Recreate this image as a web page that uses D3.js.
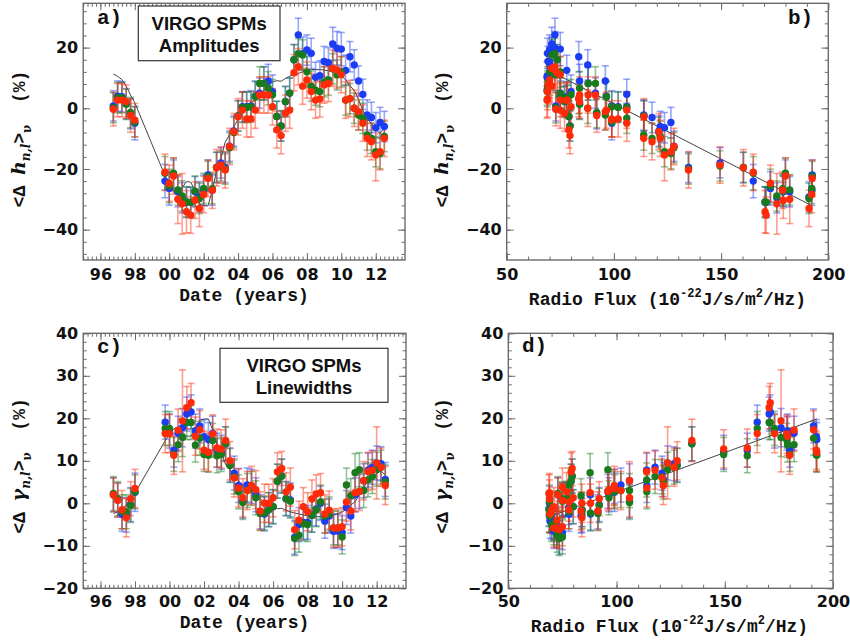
<!DOCTYPE html>
<html><head><meta charset="utf-8">
<script src="https://cdn.jsdelivr.net/npm/d3@7"></script>
<style>body{margin:0;background:#fff}</style>
</head><body>
<svg id="chart" width="850" height="644"></svg>
<script>
// ---------------- DATA ----------------
const dates = [1996.75,1997.0,1997.25,1997.5,1997.75,1998.0,
  1999.75,2000.0,2000.25,2000.5,2000.75,2001.0,2001.25,2001.5,2001.75,2002.0,
  2002.25,2002.5,2002.75,2003.0,2003.25,2003.5,2003.75,2004.0,2004.25,2004.5,
  2004.75,2005.0,2005.25,2005.5,2005.75,2006.0,2006.25,2006.5,2006.75,2007.0,
  2007.25,2007.5,2007.75,2008.0,2008.25,2008.5,2008.75,2009.0,2009.25,2009.5,
  2009.75,2010.0,2010.25,2010.5,2010.75,2011.0,2011.25,2011.5,2011.75,2012.0,
  2012.25,2012.5];
// 10.7 cm radio flux at each date
const flux = [72.9,75,78,84,92,99,
  165,173,180,182,176,170.5,171,179,191,192.3,
  192.5,178.7,160.4,149.5,134.8,128,121,114,106,102,
  99,96.5,91.4,88,84,80,79,79.5,77,75,
  73.5,72.5,71,70,69,68.8,69,69.3,70,71,
  72.5,75,78,83.6,87.8,96,106,113.9,117.8,123.6,
  126.6,121.6];

// Mode amplitudes <Δh> (%), three series
const ampBlue = [0.8,4.0,3.8,1.5,-1.8,-4.9,
  -24,-26.4,-22,-27.5,-29.5,-31,-31,-27.5,-29.2,-27,
  -22,-27,-19.5,-18,-19.5,-12.5,-7.5,-2.5,0.5,0.5,
  0.8,4,5,8.2,9,5.5,-2.7,-5.8,2.2,5,
  16,24.2,18,19.2,18.1,10.2,10.7,15.4,15,21.2,
  19.8,19.5,12.5,17,14.3,9,4.6,-2.2,-3,-6.4,
  -4.7,-6];
const ampGreen = [0.2,3.5,3.5,1.3,-1.4,-4.5,
  -21.4,-25.6,-21.4,-26.9,-28.9,-30.8,-31,-27.3,-29.7,-26.4,
  -22.5,-26.5,-19.5,-19,-20,-13,-8,-2.5,0.3,0.3,
  0.5,3.8,8.2,8.2,6.6,4.5,-2.7,-5.8,2.2,5,
  16,18,17.6,12,7.3,6,5.5,8.7,9.3,13,
  11,12,2.7,3.2,0,-2.2,-3.3,-8.8,-9.9,-14.3,
  -14.9,-9.3];
const ampRed = [-0.3,2.7,2.7,2.2,-2.4,-3.9,
  -21.1,-24.7,-22.3,-30,-31.5,-34.1,-35.2,-30.3,-33,-28.4,
  -23.1,-27,-19.6,-18.7,-20.3,-12.6,-7.7,-2.8,-0.6,-3.5,
  -3.5,-0.6,4.4,4.4,4.4,0.5,-7.1,-9,-1.6,-0.6,
  11.7,13.7,7.3,9.3,5.5,2.7,3.1,7.7,8.2,13.2,
  12.6,11.1,2.7,3.2,0,-1.1,-4.9,-9.9,-11,-15.4,
  -14.3,-9.9];
const ampErrBlue = [5,5,5,5,5,5.5,
  5.5,5.5,5,5,5,5,5,5,5,5,
  5,5,5,5,5,5,5,5,5,5,
  5,5,5,5.5,5.5,5.5,5,5,5,5,
  5,5.5,5.5,5,5,5,5,5,5,5.5,
  5.5,5.5,5,5,5,5,5,5,5,5,
  5,5];
const ampErrGreen = [5,5,5,5,5,5,
  5.5,5.5,5,5,5,5,5,5,5,5,
  5,5,5,5,5,5,5,5,5,5,
  5,5,5.5,5.5,5.5,5,5,5,5,5,
  5,5,5,5,5,5,5,5,5,5,
  5,5,5,5,5,5,5,5,5,5,
  5,5];
const ampErrRed = [5.5,5.5,5.5,5.5,5.5,5.5,
  6,6,6,8,10,7,6,6,6,6,
  6,6,6,6,6,6,6,6,6,6,
  6,6,6,6,6,6,6,6,6,6,
  6,6,6,6,6,6,6,6,6,6,
  6,6,6,6,6,6,6,6,6,8.5,
  6,6];

// Mode linewidths <Δγ> (%), three series
const lwBlue = [2,0.8,-2.6,-2.8,-0.3,2.6,
  19.1,17,12.5,16.5,17.8,21,21.5,17,18.2,15.7,
  15,16.5,12.5,12,14,9,7.1,4.2,0.5,4.3,
  4,2,-2,-2.5,-1.5,-0.8,5.2,6.4,1.1,0.8,
  -8,-5,-4.5,-4.5,-2.8,-1.3,0,-4.2,-3,-6.6,
  -6.5,-6.9,-1,-3,2,2.8,5.3,7.8,8.5,9.5,
  9.3,5.6];
const lwGreen = [2.3,1.1,-2,-2,-0.5,2.7,
  17.6,17.6,11.5,13.8,15.5,19,19,13.7,15.3,11.5,
  11.3,14.8,11.2,11.5,14,8.9,6.2,2.7,0.2,3,
  3.5,1.3,-2.4,-2.3,-1.5,-0.8,5.2,6.4,1.1,0.5,
  -8.3,-7.5,-4.8,-5,-2.8,-1.5,0.3,-3,-2.5,-5.8,
  -5.8,-7.9,4.3,1.8,7.2,7.9,3,5.5,6.3,8,
  8.5,5];
const lwRed = [2.0,0.7,-1.5,-3.4,1.1,3.5,
  16.4,16.4,11.3,17.2,19.4,22.5,23.7,15.8,17.3,12.5,
  12,16.3,13,12.8,14.8,10,6,3.6,1.3,3,
  4.2,3.2,-1.8,0,0,1.3,7.4,8.2,2.7,3.8,
  -6.2,-4,-0.8,-2,1,2.2,2.5,-2.5,-1.6,-5.8,
  -5.8,-5.5,0.3,-1.8,2.5,2.8,5.3,7.5,7.8,9.5,
  8.5,4.2];
const lwErrBlue = [4,4,4,4,4,4.5,
  4,4,4,4,4.5,4,4,4,4,4,
  4,4,4,4,4,4,4,4,4,4,
  4,4,4,4,4,4,4,4,4,4,
  4,4,4,4,4,4,4,4,4,4,
  4,4,4,4,4,4,4,4,4,4,
  4,4];
const lwErrGreen = [4,4,4,4,4,4,
  4,4,4,4,4.5,4,4,4,4,4,
  4,4,4,4,4,4,4,4,4,4,
  4,4,4,4,4,4,4,4,4,4,
  4,4,4,4,4,4,4,4,4,4,
  4,4,4,4,4.5,4,4,4,4,4,
  4,4];
const lwErrRed = [4,4,4.5,4.5,4,4.5,
  4.5,4.5,4.5,5,12,5,4.5,4.5,4.5,4.5,
  4.5,4.5,4.5,4.5,5,4.5,4.5,4.5,4.5,4.5,
  4.5,4.5,4.5,4.5,4.5,4.5,4.5,4,4.5,4.5,
  4.5,4.5,4.5,4.5,4.5,4.5,4.5,4.5,4.5,4.5,
  4.5,4.5,4.5,4.5,4.5,4.5,4.5,4.5,4.5,8.5,
  4.5,4.5];

// linear regressions with radio flux: [intercept, slope]
const fitAmp = [37.81, -0.3635];
const fitLw = [-15.96, 0.186];

const yearTicks = [1996,1998,2000,2002,2004,2006,2008,2010,2012];
const fluxTicks = [50,100,150,200];
const ampTicks = [-40,-20,0,20];
const lwTicks = [-20,-10,0,10,20,30,40];
const seriesColors = ["#1a3cf2","#197a1e","#ff2b08"];

// ---------------- DRAWING ----------------
const svg = d3.select("#chart");
const TICKC = "#6b6b6b";

function styleAxis(sel){
  sel.select(".domain").remove();
  sel.selectAll(".tick line").attr("stroke",TICKC).attr("stroke-width",1);
  sel.selectAll(".tick text").attr("font-family","'DejaVu Sans', sans-serif")
    .attr("font-weight","bold").attr("font-size",16).attr("fill","#111");
}

function drawPanel(c){
  const [x0,x1,y0,y1] = c.box;
  const g = svg.append("g");
  const x = d3.scaleLinear().domain(c.xDomain).range([x0,x1]);
  const y = d3.scaleLinear().domain(c.yDomain).range([y1,y0]);

  const minorX = d3.range(Math.ceil(c.xDomain[0]/c.xMinor)*c.xMinor, c.xDomain[1]+1e-9, c.xMinor);
  const minorY = d3.range(Math.ceil(c.yDomain[0]/c.yMinor)*c.yMinor, c.yDomain[1]+1e-9, c.yMinor);

  // minor ticks on all sides
  [[d3.axisBottom(x),y1],[d3.axisTop(x),y0]].forEach(([ax,yy])=>{
    g.append("g").attr("transform",`translate(0,${yy})`)
     .call(ax.tickValues(minorX).tickFormat("").tickSizeInner(-3.5).tickSizeOuter(0)).call(styleAxis);
  });
  [[d3.axisLeft(y),x0],[d3.axisRight(y),x1]].forEach(([ax,xx])=>{
    g.append("g").attr("transform",`translate(${xx},0)`)
     .call(ax.tickValues(minorY).tickFormat("").tickSizeInner(-3.5).tickSizeOuter(0)).call(styleAxis);
  });
  // major ticks
  g.append("g").attr("transform",`translate(0,${y1})`)
   .call(d3.axisBottom(x).tickValues(c.xTicks).tickFormat(c.xFmt).tickSizeInner(-7).tickSizeOuter(0).tickPadding(c.xPad))
   .call(styleAxis);
  g.append("g").attr("transform",`translate(0,${y0})`)
   .call(d3.axisTop(x).tickValues(c.xTicks).tickFormat("").tickSizeInner(-7).tickSizeOuter(0))
   .call(styleAxis);
  g.append("g").attr("transform",`translate(${x0},0)`)
   .call(d3.axisLeft(y).tickValues(c.yTicks).tickSizeInner(-7).tickSizeOuter(0).tickPadding(5))
   .call(styleAxis);
  g.append("g").attr("transform",`translate(${x1},0)`)
   .call(d3.axisRight(y).tickValues(c.yTicks).tickFormat("").tickSizeInner(-7).tickSizeOuter(0))
   .call(styleAxis);

  // fit
  if(c.mode==="curve"){
    const line = d3.line().x((d,i)=>x(c.xs[i])).y((d,i)=>y(c.fit[0]+c.fit[1]*flux[i]));
    g.append("path").datum(c.xs).attr("d",line).attr("fill","none")
     .attr("stroke","#444").attr("stroke-width",1);
  } else {
    const ext = d3.extent(flux);
    const line = d3.line().x(d=>x(d)).y(d=>y(c.fit[0]+c.fit[1]*d));
    g.append("path").datum(ext).attr("d",line).attr("fill","none")
     .attr("stroke","#444").attr("stroke-width",1);
  }

  // error bars
  c.series.forEach(s=>{
    const eg = g.append("g").attr("stroke",s.color).attr("stroke-opacity",0.45).attr("stroke-width",1.6);
    s.v.forEach((v,i)=>{
      const xx = x(c.xs[i]), ya = y(v - s.e[i]), yb = y(v + s.e[i]);
      eg.append("line").attr("x1",xx).attr("x2",xx).attr("y1",ya).attr("y2",yb);
      eg.append("line").attr("x1",xx-3.5).attr("x2",xx+3.5).attr("y1",ya).attr("y2",ya);
      eg.append("line").attr("x1",xx-3.5).attr("x2",xx+3.5).attr("y1",yb).attr("y2",yb);
    });
  });
  // points
  c.series.forEach(s=>{
    g.append("g").selectAll("circle").data(s.v).join("circle")
     .attr("cx",(d,i)=>x(c.xs[i])).attr("cy",d=>y(d)).attr("r",3.7).attr("fill",s.color);
  });

  // frame
  g.append("rect").attr("x",x0).attr("y",y0).attr("width",x1-x0).attr("height",y1-y0)
   .attr("fill","none").attr("stroke",TICKC).attr("stroke-width",1.4);
  return g;
}

const yrFmt = d => d3.format("02d")(d % 100);
const ampSeries = [
  {v:ampBlue,e:ampErrBlue,color:seriesColors[0]},
  {v:ampGreen,e:ampErrGreen,color:seriesColors[1]},
  {v:ampRed,e:ampErrRed,color:seriesColors[2]}];
const lwSeries = [
  {v:lwBlue,e:lwErrBlue,color:seriesColors[0]},
  {v:lwGreen,e:lwErrGreen,color:seriesColors[1]},
  {v:lwRed,e:lwErrRed,color:seriesColors[2]}];

drawPanel({box:[83.2,405,3.3,260], xDomain:[1995,2013.7], yDomain:[-50,34.6], xs:dates,
  series:ampSeries, xTicks:yearTicks, xMinor:0.25, xFmt:yrFmt, yTicks:ampTicks, yMinor:4,
  xPad:9, fit:fitAmp, mode:"curve"});
drawPanel({box:[506.7,828.3,3.3,260], xDomain:[50,200], yDomain:[-50,34.6], xs:flux,
  series:ampSeries, xTicks:fluxTicks, xMinor:10, xFmt:d3.format("d"), yTicks:ampTicks, yMinor:4,
  xPad:9, fit:fitAmp, mode:"line"});
drawPanel({box:[83.2,406,333.3,588.3], xDomain:[1995,2013.7], yDomain:[-20,40], xs:dates,
  series:lwSeries, xTicks:yearTicks, xMinor:0.25, xFmt:yrFmt, yTicks:lwTicks, yMinor:2,
  xPad:7.5, fit:fitLw, mode:"curve"});
drawPanel({box:[508.3,833,333.3,588.3], xDomain:[50,200], yDomain:[-20,40], xs:flux,
  series:lwSeries, xTicks:fluxTicks, xMinor:10, xFmt:d3.format("d"), yTicks:lwTicks, yMinor:2,
  xPad:7.5, fit:fitLw, mode:"line"});

// ---------------- TEXT ----------------
const MONO = "'Liberation Mono', 'DejaVu Sans Mono', monospace";
const SERIF = "'DejaVu Serif', 'Liberation Serif', serif";

function panelLabel(txt, x, yb){
  svg.append("text").attr("x",x).attr("y",yb).text(txt)
    .attr("font-family",MONO).attr("font-weight","bold").attr("font-size",21).attr("fill","#111");
}
panelLabel("a)",97,24); panelLabel("b)",788,23.5); panelLabel("c)",97,353); panelLabel("d)",522,352);

function yTitle(cx, cy, sym){
  const t = svg.append("text").attr("transform",`translate(${cx},${cy}) rotate(-90)`)
    .attr("text-anchor","middle").attr("font-family",MONO).attr("font-weight","bold")
    .attr("font-size",18).attr("fill","#111");
  t.append("tspan").text("<\u0394 ");
  t.append("tspan").attr("font-family",SERIF).attr("font-style","italic").attr("font-size",19).text(sym);
  t.append("tspan").attr("font-family",SERIF).attr("font-style","italic").attr("font-size",12).attr("dy",5).text("n,l");
  t.append("tspan").attr("dy",-5).text(">");
  t.append("tspan").attr("font-family",SERIF).attr("font-size",12).attr("dy",6).text("\u03bd");
  t.append("tspan").attr("dy",-6).text("\u00a0\u00a0(%)");
}
yTitle(25,139,"h"); yTitle(448,139,"h"); yTitle(25,466,"\u03b3"); yTitle(448,466,"\u03b3");

function xTitleDate(cx, yb){
  svg.append("text").attr("x",cx).attr("y",yb).attr("text-anchor","middle")
    .attr("font-family",MONO).attr("font-weight","bold").attr("font-size",18).attr("fill","#111")
    .text("Date (years)");
}
xTitleDate(244,301); xTitleDate(244.5,627.5);

function xTitleFlux(cx, yb){
  const t = svg.append("text").attr("x",cx).attr("y",yb).attr("text-anchor","middle")
    .attr("font-family",MONO).attr("font-weight","bold").attr("font-size",18).attr("fill","#111");
  t.append("tspan").text("Radio Flux (10");
  t.append("tspan").attr("font-size",12).attr("dy",-8).text("-22");
  t.append("tspan").attr("dy",8).text("J/s/m");
  t.append("tspan").attr("font-size",12).attr("dy",-8).text("2");
  t.append("tspan").attr("dy",8).text("/Hz)");
}
xTitleFlux(667.5,305); xTitleFlux(669.5,632);

function noteBox(x,y,w,h,l1,l2,b1,b2){
  svg.append("rect").attr("x",x).attr("y",y).attr("width",w).attr("height",h)
    .attr("fill","#fff").attr("stroke","#333").attr("stroke-width",1.2);
  [[l1,b1],[l2,b2]].forEach(([s,b])=>{
    svg.append("text").attr("x",x+w/2).attr("y",b).attr("text-anchor","middle")
      .attr("font-family","'Liberation Sans', Arial, sans-serif").attr("font-weight","bold")
      .attr("font-size",18.5).attr("fill","#111").text(s);
  });
}
noteBox(138.3,6,141.7,54.7,"VIRGO SPMs","Amplitudes",29.5,52);
noteBox(220,348.3,168,54,"VIRGO SPMs","Linewidths",371.7,393.5);
</script>
</body></html>
